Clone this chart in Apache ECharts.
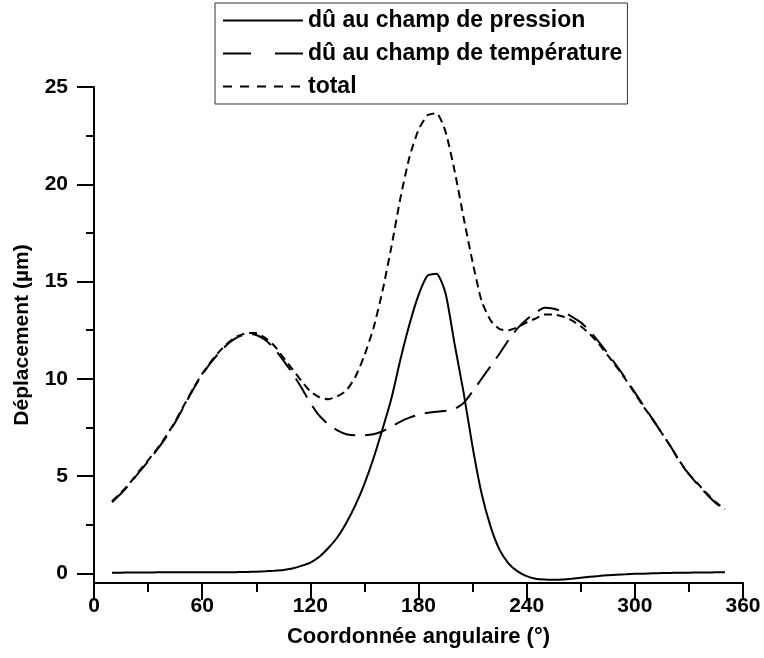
<!DOCTYPE html>
<html>
<head>
<meta charset="utf-8">
<script src="https://cdn.jsdelivr.net/npm/echarts@6/dist/echarts.min.js"></script>
<style>
html,body{margin:0;padding:0;background:#fff;}
#chart{width:764px;height:658px;}
</style>
</head>
<body>
<div id="chart"></div>
<script>
// Angular coordinate (degrees)
const angles = [10,15,20,25,30,35,40,45,50,55,60,65,70,75,80,85,90,95,100,105,110,115,120,125,130,135,140,145,150,155,160,165,170,175,180,185,190,195,200,205,210,215,220,225,230,235,240,245,250,255,260,265,270,275,280,285,290,295,300,305,310,315,320,325,330,335,340,345,350];

// Displacement due to the pressure field (µm)
const pression = [0.03,0.03,0.04,0.04,0.04,0.05,0.05,0.05,0.05,0.05,0.05,0.05,0.05,0.05,0.06,0.07,0.08,0.1,0.13,0.17,0.25,0.38,0.55,0.85,1.3,1.85,2.6,3.5,4.6,5.9,7.4,9.0,11.0,12.8,14.3,15.3,15.4,14.4,11.8,9.3,6.5,4.1,2.4,1.2,0.5,0.1,-0.15,-0.28,-0.32,-0.33,-0.32,-0.28,-0.23,-0.18,-0.14,-0.1,-0.07,-0.05,-0.03,-0.02,0.0,0.01,0.02,0.03,0.03,0.04,0.04,0.05,0.05];

// Displacement due to the temperature field (µm)
const temperature = [3.65,4.1,4.6,5.2,5.75,6.35,7.0,7.75,8.6,9.45,10.2,10.85,11.4,11.85,12.15,12.3,12.25,12.0,11.55,10.95,10.3,9.55,8.75,8.1,7.65,7.35,7.15,7.1,7.1,7.15,7.3,7.55,7.8,8.0,8.15,8.25,8.3,8.35,8.45,8.75,9.35,10.0,10.65,11.3,12.0,12.6,13.05,13.4,13.65,13.6,13.45,13.2,12.9,12.45,11.9,11.3,10.65,10.0,9.3,8.6,7.9,7.2,6.5,5.7,5.1,4.55,4.05,3.6,3.25];

// Total displacement (µm)
const total = [3.7,4.15,4.65,5.25,5.8,6.4,7.05,7.8,8.65,9.5,10.25,10.9,11.45,11.9,12.2,12.35,12.35,12.1,11.7,11.1,10.5,9.9,9.35,9.05,8.95,9.1,9.4,10.1,11.2,12.6,14.5,16.8,19.3,21.4,22.8,23.55,23.65,22.7,20.7,18.3,16.0,14.0,13.0,12.55,12.5,12.65,12.9,13.1,13.3,13.3,13.2,13.0,12.7,12.3,11.8,11.2,10.6,9.95,9.25,8.55,7.9,7.2,6.5,5.75,5.1,4.6,4.1,3.65,3.3];

// Tick labels
const yMajorTicks = [0,5,10,15,20,25];
const yMinorTicks = [2.5,7.5,12.5,17.5,22.5];

const seriesNames = ['dû au champ de pression','dû au champ de température','total'];

const pair = (vals) => angles.map((a,i) => [a, vals[i]]);

const FONT = 'Liberation Sans, Arial, sans-serif';
const chart = echarts.init(document.getElementById('chart'), null, {renderer:'canvas'});

const hiddenDot = { opacity: 0, borderWidth: 0 };

const option = {
  animation: false,
  backgroundColor: '#fff',
  grid: { left: 94, right: 21, top: 87, bottom: 75, containLabel: false },
  legend: {
    orient: 'vertical',
    left: 215, top: 3,
    padding: [6, 5, 6, 7],
    itemWidth: 80, itemHeight: 14, itemGap: 10,
    backgroundColor: '#fff',
    borderColor: '#333', borderWidth: 1,
    textStyle: { fontSize: 23, fontWeight: 'bold', color: '#000', fontFamily: FONT },
    data: [
      { name: seriesNames[0], itemStyle: hiddenDot, lineStyle: { type: 'solid', width: 2, color: '#000' } },
      { name: seriesNames[1], itemStyle: hiddenDot, lineStyle: { type: [28, 24], width: 2, color: '#000' } },
      { name: seriesNames[2], itemStyle: hiddenDot, lineStyle: { type: [9, 8], width: 2, color: '#000' } }
    ]
  },
  xAxis: {
    type: 'value', min: 0, max: 360, interval: 60,
    name: 'Coordonnée angulaire (°)', nameLocation: 'middle', nameGap: 43,
    nameTextStyle: { fontSize: 22, fontWeight: 'bold', color: '#000', fontFamily: FONT },
    axisLine: { show: true, onZero: false, lineStyle: { color: '#000', width: 2 } },
    axisTick: { show: true, length: 17, lineStyle: { color: '#000', width: 2 } },
    minorTick: { show: true, splitNumber: 2, length: 9, lineStyle: { color: '#000', width: 2 } },
    axisLabel: { margin: 13, fontSize: 21, fontWeight: 'bold', color: '#000', fontFamily: FONT },
    splitLine: { show: false }
  },
  yAxis: [
    {
      type: 'value', min: -0.5, max: 25,
      name: 'Déplacement (µm)', nameLocation: 'middle', nameGap: 61,
      nameTextStyle: { fontSize: 21, fontWeight: 'bold', color: '#000', fontFamily: FONT },
      axisLine: { show: true, onZero: false, lineStyle: { color: '#000', width: 2 } },
      axisTick: { show: true, length: 17, customValues: yMajorTicks, lineStyle: { color: '#000', width: 2 } },
      axisLabel: { margin: 26, customValues: yMajorTicks, fontSize: 21, fontWeight: 'bold', color: '#000', fontFamily: FONT },
      splitLine: { show: false }
    },
    {
      type: 'value', min: -0.5, max: 25, position: 'left',
      axisLine: { show: false, onZero: false },
      axisTick: { show: true, length: 8, customValues: yMinorTicks, lineStyle: { color: '#000', width: 2 } },
      axisLabel: { show: false },
      splitLine: { show: false }
    }
  ],
  series: [
    { name: seriesNames[0], type: 'line', data: pair(pression), symbol: 'none', smooth: 0.2,
      lineStyle: { color: '#000', width: 2, type: 'solid' }, itemStyle: { color: '#000' } },
    { name: seriesNames[1], type: 'line', data: pair(temperature), symbol: 'none', smooth: 0.2,
      lineStyle: { color: '#000', width: 2, type: [22, 10] }, itemStyle: { color: '#000' } },
    { name: seriesNames[2], type: 'line', data: pair(total), symbol: 'none', smooth: 0.2,
      lineStyle: { color: '#000', width: 2, type: [8, 5] }, itemStyle: { color: '#000' } }
  ]
};
chart.setOption(option);
</script>
</body>
</html>
